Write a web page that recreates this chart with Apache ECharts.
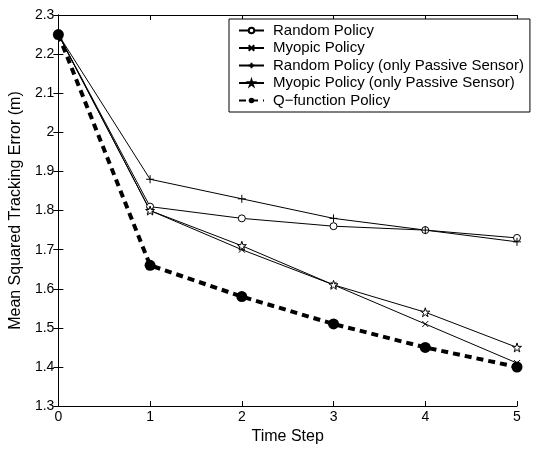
<!DOCTYPE html>
<html>
<head>
<meta charset="utf-8">
<script src="https://cdn.jsdelivr.net/npm/echarts@6/dist/echarts.min.js"></script>
<style>html,body{margin:0;padding:0;background:#fff}#c{width:540px;height:450px}</style>
</head>
<body>
<div id="c"></div>
<script>
const timeSteps = [0, 1, 2, 3, 4, 5];
const randomPolicy = [2.25, 1.81, 1.78, 1.76, 1.75, 1.73];
const myopicPolicy = [2.25, 1.80, 1.70, 1.61, 1.51, 1.41];
const randomPassive = [2.25, 1.88, 1.83, 1.78, 1.75, 1.72];
const myopicPassive = [2.25, 1.80, 1.71, 1.61, 1.54, 1.45];
const qFunction = [2.25, 1.66, 1.58, 1.51, 1.45, 1.40];
const seriesNames = ['Random Policy', 'Myopic Policy', 'Random Policy (only Passive Sensor)', 'Myopic Policy (only Passive Sensor)', 'Q\u2212function Policy'];

const FONT = '"Liberation Sans", Arial, sans-serif';
const pairs = v => timeSteps.map((t, i) => [t, v[i]]);
const circlePath = 'path://M10,5A5,5 0 1,1 0,5A5,5 0 1,1 10,5Z';
const xPath = 'path://M0,0L10,10M10,0L0,10';
const plusPath = 'path://M5,0L5,10M0,5L10,5';
const starPath = 'path://M50,0L61.23,34.55L97.55,34.55L68.17,55.9L79.39,90.45L50,69.1L20.61,90.45L31.83,55.9L2.45,34.55L38.77,34.55Z';

function thin(name, data, symbol, size) {
  return {
    name: name, type: 'line', data: pairs(data), symbol: symbol, symbolSize: size,
    lineStyle: { color: '#000', width: 1, type: 'solid' },
    itemStyle: { color: '#fff', borderColor: '#000', borderWidth: 1 },
    emphasis: { disabled: true }, animation: false
  };
}

const chart = echarts.init(document.getElementById('c'));
const axisCommon = {
  axisLine: { show: true, lineStyle: { color: '#000', width: 1 } },
  axisTick: { show: true, inside: true, length: 5, lineStyle: { color: '#000' } },
  splitLine: { show: false }
};
chart.setOption({
  backgroundColor: '#fff',
  textStyle: { fontFamily: FONT },
  grid: { left: 56, right: 23, top: 15, bottom: 40, containLabel: false },
  legend: {
    orient: 'vertical', left: 229, top: 19,
    data: seriesNames,
    itemWidth: 25, itemHeight: 7, itemGap: 2.5,
    padding: [4, 6, 4, 9],
    borderColor: '#000', borderWidth: 1, backgroundColor: '#fff',
    textStyle: { fontFamily: FONT, fontSize: 15, color: '#000', padding: [0, 0, 0, 4] },
    selectedMode: false
  },
  xAxis: [
    Object.assign({ type: 'value', min: 0, max: 5, interval: 1, position: 'bottom',
      name: 'Time Step', nameLocation: 'middle', nameGap: 19,
      nameTextStyle: { fontFamily: FONT, fontSize: 16, color: '#000' },
      axisLabel: { fontFamily: FONT, fontSize: 14, color: '#000', margin: 4 } }, axisCommon),
    Object.assign({ type: 'value', min: 0, max: 5, interval: 1, position: 'top',
      axisLabel: { show: false } }, axisCommon)
  ],
  yAxis: [
    Object.assign({ type: 'value', min: 1.3, max: 2.3, interval: 0.1, position: 'left',
      name: 'Mean Squared Tracking Error (m)', nameLocation: 'middle', nameGap: 21,
      nameTextStyle: { fontFamily: FONT, fontSize: 16, color: '#000' },
      axisLabel: { fontFamily: FONT, fontSize: 14, color: '#000', margin: 4,
        formatter: v => String(parseFloat(v.toFixed(1))) } }, axisCommon),
    Object.assign({ type: 'value', min: 1.3, max: 2.3, interval: 0.1, position: 'right',
      axisLabel: { show: false } }, axisCommon)
  ],
  series: [
    thin(seriesNames[0], randomPolicy, circlePath, 7),
    thin(seriesNames[1], myopicPolicy, xPath, 6),
    thin(seriesNames[2], randomPassive, plusPath, 8),
    thin(seriesNames[3], myopicPassive, starPath, 9),
    {
      name: seriesNames[4], type: 'line', data: pairs(qFunction), symbol: 'circle', symbolSize: 11,
      lineStyle: { color: '#000', width: 4, type: [7, 5] },
      itemStyle: { color: '#000' }, emphasis: { disabled: true }, animation: false, z: 5
    }
  ]
});
</script>
</body>
</html>
